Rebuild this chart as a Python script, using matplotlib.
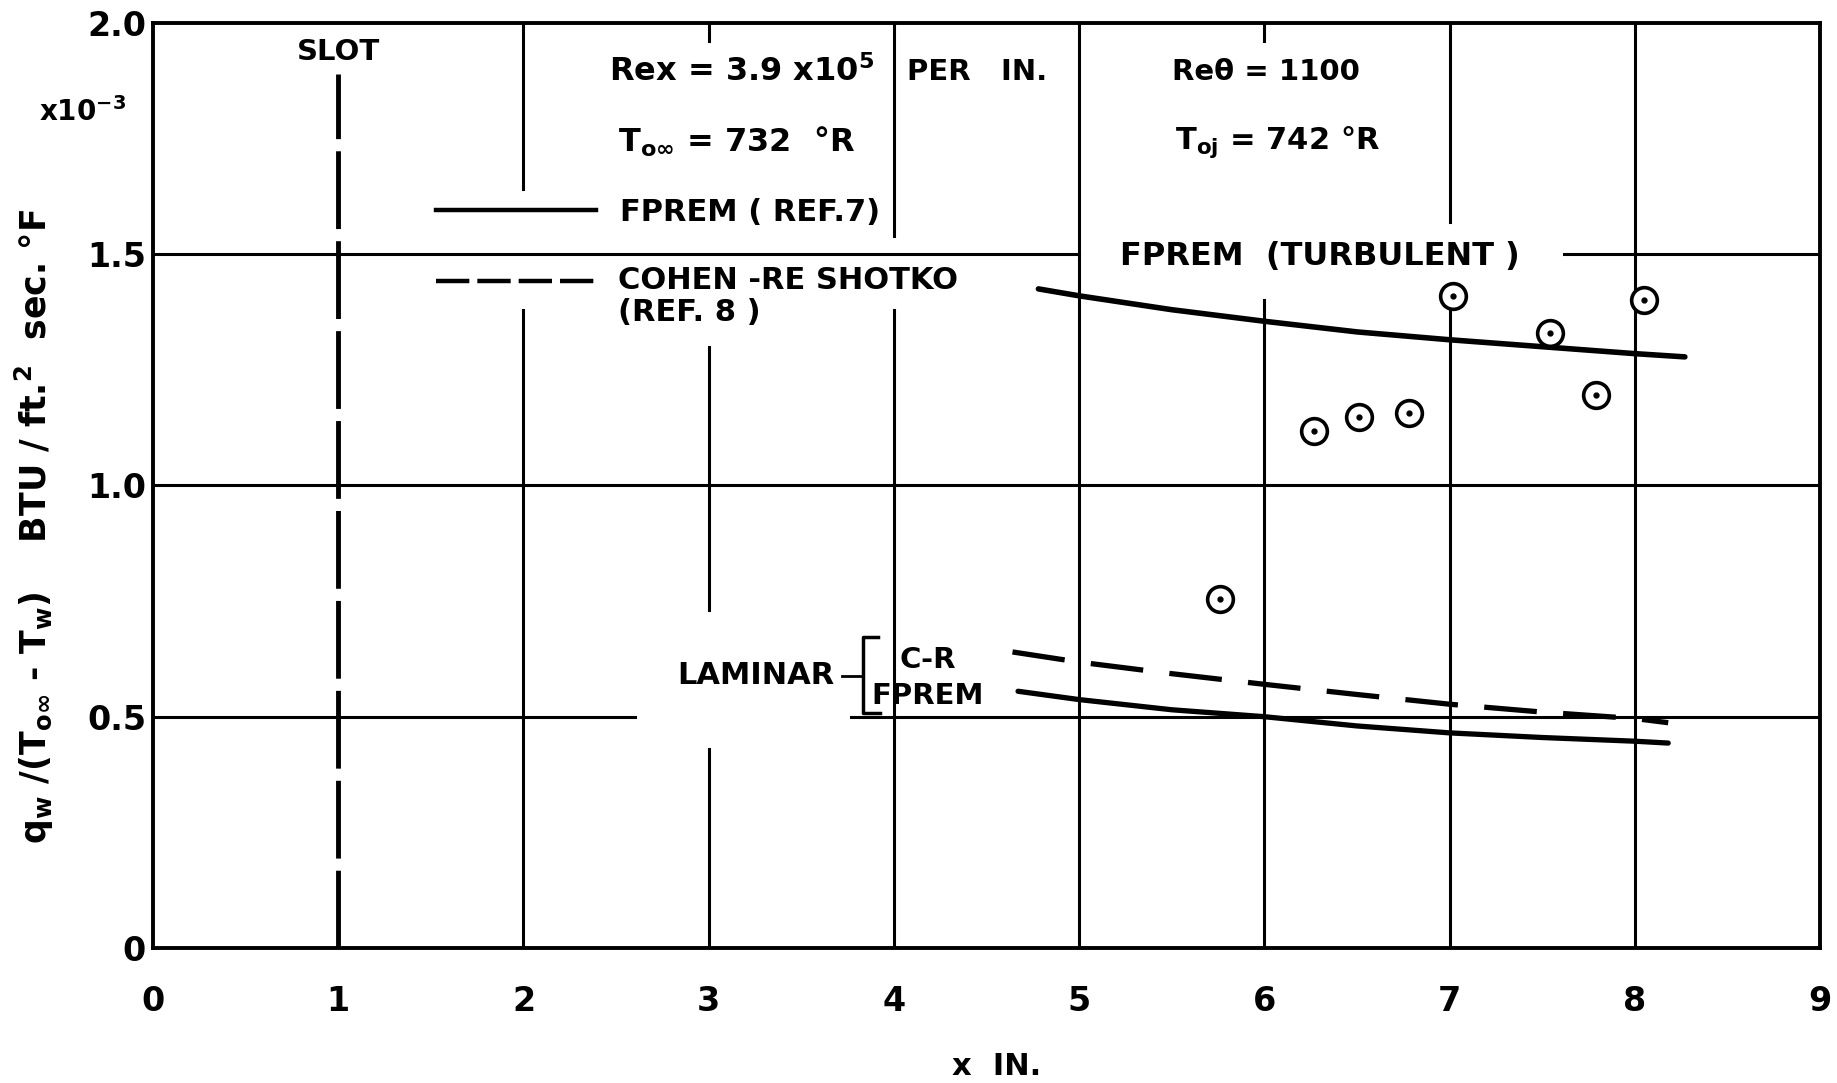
import matplotlib.pyplot as plt

plt.rcParams['font.family'] = ['DejaVu Sans']
plt.rcParams['font.weight'] = 'bold'
plt.rcParams['mathtext.fontset'] = 'custom'
plt.rcParams['mathtext.rm'] = 'DejaVu Sans:bold'
plt.rcParams['mathtext.it'] = 'DejaVu Sans:bold'
plt.rcParams['mathtext.bf'] = 'DejaVu Sans:bold'

# values (y in units of 1e-3)
x_ticks = [0, 1, 2, 3, 4, 5, 6, 7, 8, 9]
y_ticks = [0, 0.5, 1.0, 1.5, 2.0]
y_ticklabels = ['0', '0.5', '1.0', '1.5', '2.0']

turb_x = [4.78, 5.0, 5.5, 6.0, 6.5, 7.0, 7.5, 8.0, 8.27]
turb_y = [1.425, 1.41, 1.38, 1.355, 1.332, 1.315, 1.30, 1.285, 1.278]

lam_fprem_x = [4.67, 5.0, 5.5, 6.0, 6.5, 7.0, 7.5, 8.0, 8.18]
lam_fprem_y = [0.555, 0.537, 0.515, 0.50, 0.48, 0.465, 0.455, 0.447, 0.443]

lam_cr_x = [4.64, 5.0, 5.5, 6.0, 6.5, 7.0, 7.5, 8.0, 8.18]
lam_cr_y = [0.64, 0.618, 0.593, 0.57, 0.548, 0.527, 0.51, 0.496, 0.487]

data_x = [5.76, 6.27, 6.51, 6.78, 7.02, 7.54, 7.79, 8.05]
data_y = [0.755, 1.117, 1.147, 1.156, 1.41, 1.329, 1.196, 1.401]

slot_x = 1.0

# grid lines of the original sheet, broken where the lettering sits
vgrid = [(2, [(1.64, 2.0), (0, 1.38)]),
         (3, [(1.96, 2.0), (0.73, 1.30), (0, 0.43)]),
         (4, [(1.54, 2.0), (0, 1.38)]),
         (5, [(0, 2.0)]),
         (6, [(1.96, 2.0), (0, 1.40)]),
         (7, [(1.57, 2.0), (0, 1.41)]),
         (8, [(0, 2.0)])]
hgrid = [(1.5, [(0, 5.0), (7.62, 9)]),
         (1.0, [(0, 9)]),
         (0.5, [(0, 2.6), (3.77, 9)])]

fig = plt.figure(figsize=(18.37, 10.83), dpi=100)
ax = fig.add_axes([0.0833, 0.1247, 0.9075, 0.8541])

for x, segs in vgrid:
    for y0, y1 in segs:
        ax.plot([x, x], [y0, y1], color='black', lw=2.2, zorder=1)
for y, segs in hgrid:
    for x0, x1 in segs:
        ax.plot([x0, x1], [y, y], color='black', lw=2.2, zorder=1)

# slot location
ax.plot([slot_x, slot_x], [0, 1.89], color='black', lw=3.5,
        linestyle=(0, (16, 2.5)), zorder=2)

# curves
ax.plot(turb_x, turb_y, color='black', lw=4, solid_capstyle='round', zorder=3)
ax.plot(lam_fprem_x, lam_fprem_y, color='black', lw=3.8, solid_capstyle='round', zorder=3)
ax.plot(lam_cr_x, lam_cr_y, color='black', lw=3.8, linestyle=(0, (10, 5)), zorder=3)

# experimental points
ax.plot(data_x, data_y, 'o', ms=18.5, mfc='white', mec='black', mew=2.6, zorder=4)
ax.plot(data_x, data_y, 'o', ms=3.5, color='black', zorder=5)

# legend drawn by hand like the original
ax.plot([1.53, 2.39], [1.595, 1.595], color='black', lw=3.2)
ax.plot([1.53, 2.39], [1.442, 1.442], color='black', lw=3.2, linestyle=(0, (7.5, 1.8)))
ax.text(2.52, 1.59, 'FPREM ( REF.7)', fontsize=22, va='center')
ax.text(2.51, 1.443, 'COHEN -RE SHOTKO', fontsize=22, va='center')
ax.text(2.51, 1.375, '(REF. 8 )', fontsize=22, va='center')
ax.text(5.22, 1.496, 'FPREM  (TURBULENT )', fontsize=23, va='center')

# annotations
ax.text(1.0, 1.938, 'SLOT', fontsize=21, ha='center', va='center')
ax.text(2.46, 1.894, r'Rex = 3.9 x10$^{5}$', fontsize=23, va='center')
ax.text(4.07, 1.894, 'PER   IN.', fontsize=21, va='center')
ax.text(5.50, 1.894, 'Re\u03b8 = 1100', fontsize=21, va='center')
ax.text(2.51, 1.743, r'T$_{o\infty}$ = 732  °R', fontsize=23, va='center')
ax.text(5.52, 1.743, r'T$_{oj}$ = 742 °R', fontsize=22, va='center')

ax.text(2.83, 0.59, 'LAMINAR', fontsize=22, va='center')
ax.plot([3.72, 3.835], [0.587, 0.587], color='black', lw=2)
ax.plot([3.915, 3.835, 3.835, 3.925], [0.673, 0.673, 0.507, 0.507], color='black', lw=2.5)
ax.text(4.03, 0.622, 'C-R', fontsize=21, va='center')
ax.text(3.88, 0.545, 'FPREM', fontsize=21, va='center')

ax.set_xlim(0, 9)
ax.set_ylim(0, 2.0)
ax.set_xticks(x_ticks)
ax.set_yticks(y_ticks)
ax.set_yticklabels(y_ticklabels)
ax.tick_params(axis='both', length=0, labelsize=24)
ax.tick_params(axis='x', pad=27)
ax.tick_params(axis='y', pad=5)
for s in ax.spines.values():
    s.set_linewidth(2.8)

ax.set_xlabel('x  IN.', fontsize=22, fontweight='bold')
ax.xaxis.set_label_coords(0.506, -0.128)
ax.xaxis.label.set_va('center')
ax.set_ylabel(r'q$_w$ /(T$_{o\infty}$ - T$_w$)    BTU / ft.$^2$  sec. °F',
              fontsize=25, fontweight='bold')
ax.yaxis.set_label_coords(-0.071, 0.456)
ax.yaxis.label.set_va('center')
ax.text(-0.042, 0.904, r'x10$^{-3}$', transform=ax.transAxes, fontsize=20,
        ha='center', va='center')

fig.savefig('out.png', dpi=100, facecolor='white')
